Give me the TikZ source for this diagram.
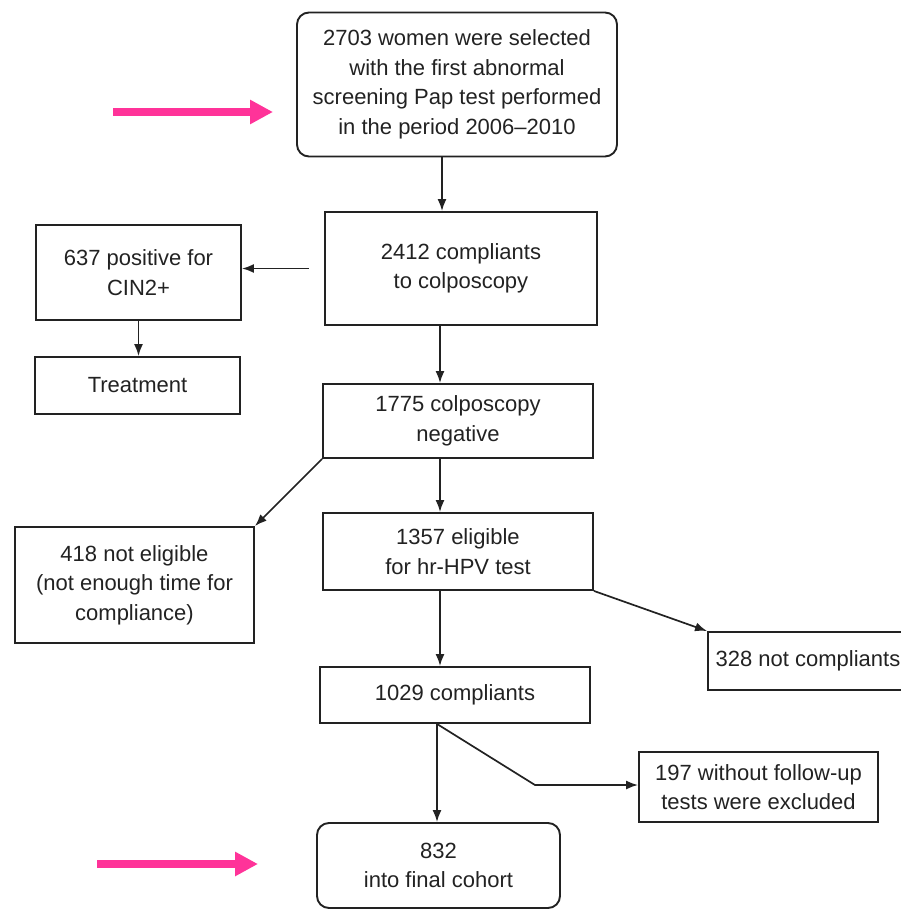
\documentclass[tikz,border=0pt]{standalone}
\usepackage{fontspec}
\setmainfont{Liberation Sans}
\usetikzlibrary{arrows.meta,calc}
\definecolor{ink}{HTML}{222222}
\definecolor{marker}{HTML}{FF3399}
\tikzset{
  box/.style={draw=ink, line width=1.9pt, inner sep=0pt, align=center,
              text=ink, font=\fontsize{22}{29.5}\selectfont},
  roundbox/.style={box, rounded corners=12pt},
  arr/.style={draw=ink, line width=1.7pt, -{Latex[length=12pt,width=9pt]}},
  marker arrow/.style={draw=marker, line width=7.5pt,
              -{Triangle[length=23pt,width=23pt]}}
}
\begin{document}
\begin{tikzpicture}[x=1pt,y=-1pt]
\useasboundingbox (0,0) rectangle (901,910);

% flow boxes
\node[roundbox, minimum width=320, minimum height=144] (sel) at (457,84.5)
  {2703 women were selected\\with the first abnormal\\screening Pap test performed\\in the period 2006--2010};
\node[box, minimum width=272, minimum height=113] (colpo) at (461,268.5)
  {2412 compliants\\to colposcopy};
\node[box, minimum width=205, minimum height=95] (cin) at (138.5,272.5)
  {637 positive for\\CIN2+};
\node[box, minimum width=205, minimum height=57] (treat) at (137.5,385.5)
  {Treatment};
\node[box, minimum width=270, minimum height=74] (neg) at (458,421)
  {1775 colposcopy\\negative};
\node[box, minimum width=270, minimum height=77] (elig) at (458,551.5)
  {1357 eligible\\for hr-HPV test};
\node[box, minimum width=239, minimum height=116] (notel) at (134.5,585)
  {418 not eligible\\(not enough time for\\compliance)};
\node[box, minimum width=200, minimum height=58] (notc) at (808,661)
  {328 not compliants};
\node[box, minimum width=270, minimum height=56] (comp) at (455,695)
  {1029 compliants};
\node[box, minimum width=239, minimum height=70] (nofu) at (758.5,787)
  {197 without follow-up\\tests were excluded};
\node[roundbox, minimum width=243, minimum height=85] (final) at (438.5,865.5)
  {832\\into final cohort};

% vertical guide lines for the main column
\coordinate (c1) at (442,0);
\coordinate (c2) at (440,0);
\coordinate (c3) at (437,0);
\coordinate (bend) at (535,785);

% connectors
\draw[arr] (c1 |- sel.south) -- (c1 |- colpo.north);
\draw[arr] ([xshift=-15pt]colpo.west) -- (cin.east |- colpo.west);
\draw[arr] (cin.south) -- (cin.south |- treat.north);
\draw[arr] (c2 |- colpo.south) -- (c2 |- neg.north);
\draw[arr] (c2 |- neg.south) -- (c2 |- elig.north);
\draw[arr] (neg.south west) -- (notel.north east);
\draw[arr] (c2 |- elig.south) -- (c2 |- comp.north);
\draw[arr] (elig.south east) -- (notc.north west);
\draw[arr] (c3 |- comp.south) -- (c3 |- final.north);
\draw[arr] (c3 |- comp.south) -- (bend) -- (bend -| nofu.west);

% highlight markers
\coordinate (m1s) at (113,112);
\coordinate (m1e) at (273,112);
\coordinate (m2s) at (97,864);
\coordinate (m2e) at (258,864);
\draw[marker arrow] (m1s) -- (m1e);
\draw[marker arrow] (m2s) -- (m2e);
\end{tikzpicture}
\end{document}
